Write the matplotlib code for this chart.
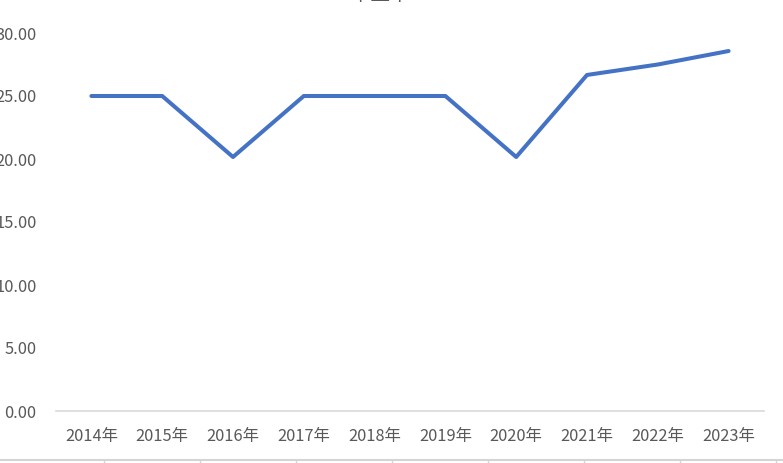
import matplotlib
matplotlib.use("Agg")
import matplotlib.pyplot as plt
from matplotlib.lines import Line2D

plt.rcParams['font.family'] = ['Noto Sans CJK SC', 'DejaVu Sans']

categories = ["2014年", "2015年", "2016年", "2017年", "2018年",
              "2019年", "2020年", "2021年", "2022年", "2023年"]
values = [25.00, 25.00, 20.16, 25.00, 25.00, 25.00, 20.16, 26.67, 27.50, 28.57]
yticks = [0, 5, 10, 15, 20, 25, 30]
title = "市盈率"

W, H = 783, 463
fig = plt.figure(figsize=(W / 100, H / 100), dpi=100)
ax = fig.add_axes([56 / W, 1 - 411 / H, (764 - 56) / W, (411 - 33) / H])

x = list(range(len(categories)))
ax.plot(x, values, color="#4472C4", linewidth=2.9, solid_capstyle="round",
        solid_joinstyle="round")

ax.set_xlim(-0.5, len(categories) - 0.5)
ax.set_ylim(0, 30)
ax.set_xticks(x)
ax.set_xticklabels(categories)
ax.set_yticks(yticks)
ax.set_yticklabels([f"{v:.2f}" for v in yticks])

for s in ["top", "right", "left"]:
    ax.spines[s].set_visible(False)
ax.spines["bottom"].set_color("#D9D9D9")
ax.spines["bottom"].set_linewidth(1.2)
ax.tick_params(axis="both", length=0, colors="#595959", labelsize=11.8)
ax.tick_params(axis="y", pad=14)
ax.tick_params(axis="x", pad=12)

# Title mostly cut off at the top edge
fig.text(380 / W, 1 + 5.5 / H, title, ha="center", va="center",
         fontsize=14, color="#595959")

# spreadsheet grid fragment at the bottom
fig.add_artist(Line2D([0, 1], [1 - 460 / H, 1 - 460 / H],
                      transform=fig.transFigure, color="#D4D4D4", linewidth=1.5))
for px in [104, 200, 296, 392, 488, 584, 680, 776]:
    fig.add_artist(Line2D([px / W, px / W], [0, 1 - 460 / H],
                          transform=fig.transFigure, color="#D4D4D4", linewidth=1))

fig.savefig("out.png", dpi=100)
